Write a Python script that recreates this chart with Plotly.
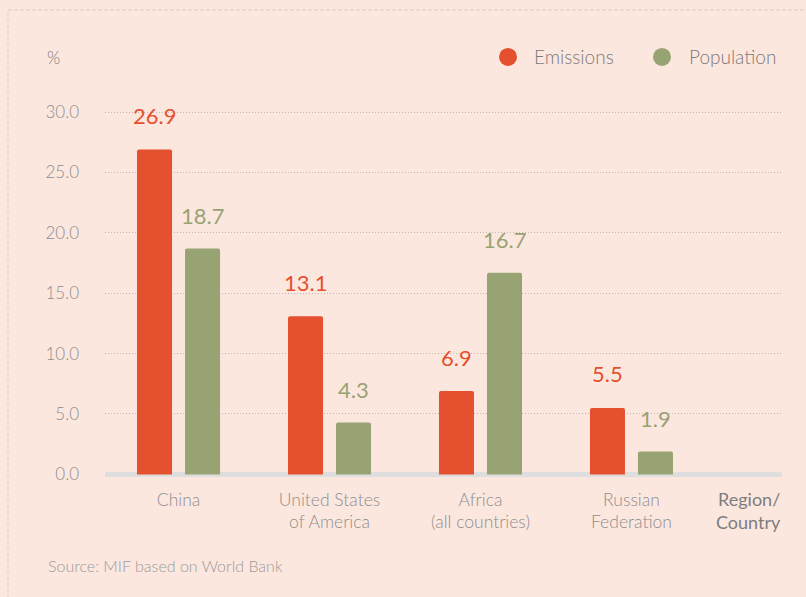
import plotly.graph_objects as go

categories = ["China", "United States<br>of America", "Africa<br>(all countries)", "Russian<br>Federation"]
emissions = [26.9, 13.1, 6.9, 5.5]
population = [18.7, 4.3, 16.7, 1.9]
y_ticks = [0, 5, 10, 15, 20, 25, 30]
y_tick_labels = ["0.0", "5.0", "10.0", "15.0", "20.0", "25.0", "30.0"]
series_names = ["Emissions", "Population"]

RED = "#E5502E"
GREEN = "#98A373"
BG = "#FCE7DF"
GRAY = "#8e8e8e"
FONT = "Lato"

# plot area in pixels (for paper-coordinate conversions)
L, R, T, B = 105, 782, 100, 477.6
def px(x):
    return (x - L) / (R - L)
def py(y):
    return (B - y) / (B - T)

xpos = list(range(len(categories)))

fig = go.Figure()
fig.add_trace(go.Bar(x=xpos, y=emissions, width=0.232, offset=-0.275,
                     marker=dict(color=RED, line=dict(width=0), cornerradius=2),
                     showlegend=False, hoverinfo="skip"))
fig.add_trace(go.Bar(x=xpos, y=population, width=0.232, offset=0.043,
                     marker=dict(color=GREEN, line=dict(width=0), cornerradius=2),
                     showlegend=False, hoverinfo="skip"))

annotations = []
for i, v in enumerate(emissions):
    annotations.append(dict(x=i - 0.275 + 0.116, y=v, xref="x", yref="y", text=f"{v:.1f}",
                            showarrow=False, yshift=34, yanchor="middle",
                            font=dict(family=FONT, size=22, color=RED)))
for i, v in enumerate(population):
    annotations.append(dict(x=i + 0.043 + 0.116, y=v, xref="x", yref="y", text=f"{v:.1f}",
                            showarrow=False, yshift=33, yanchor="middle",
                            font=dict(family=FONT, size=22, color=GREEN)))

annotations.append(dict(x=px(53), y=py(58), xref="paper", yref="paper", text="%",
                        showarrow=False, xanchor="center", yanchor="middle",
                        font=dict(family=FONT, size=17, color="#7a7a7a", weight=300)))
annotations.append(dict(x=px(783), y=py(510), xref="paper", yref="paper", text="Region/<br>Country",
                        showarrow=False, xanchor="right", yanchor="middle", align="right",
                        font=dict(family=FONT, size=18, color="#7d7d7d")))
annotations.append(dict(x=px(46), y=py(565), xref="paper", yref="paper",
                        text="Source: MIF based on World Bank",
                        showarrow=False, xanchor="left", yanchor="middle",
                        font=dict(family=FONT, size=16, color="#9a9a9a", weight=300)))

# custom legend (circle markers + labels)
legend_marker_x = [508, 662]
legend_text_x = [532, 687]
legend_colors = [RED, GREEN]
shapes = []
for name, mx, tx, c in zip(series_names, legend_marker_x, legend_text_x, legend_colors):
    shapes.append(dict(type="circle", xref="paper", yref="paper", xsizemode="pixel", ysizemode="pixel",
                       xanchor=px(mx), yanchor=py(57), x0=-9, x1=9, y0=-9, y1=9,
                       fillcolor=c, line=dict(width=0)))
    annotations.append(dict(x=px(tx), y=py(57), xref="paper", yref="paper", text=name,
                            showarrow=False, xanchor="left", yanchor="middle",
                            font=dict(family=FONT, size=19, color="#7a7a7a", weight=300)))

shapes += [
    dict(type="line", xref="paper", yref="paper", x0=px(8), x1=px(900), y0=py(10), y1=py(10),
         line=dict(color="#d6cfcb", width=1, dash="4px,2px")),
    dict(type="line", xref="paper", yref="paper", x0=px(8), x1=px(8), y0=py(700), y1=py(10),
         line=dict(color="#d6cfcb", width=1, dash="4px,2px")),
]

fig.update_layout(
    width=806, height=597,
    paper_bgcolor=BG, plot_bgcolor=BG,
    margin=dict(l=L, r=806 - R, t=T, b=597 - B),
    font=dict(family=FONT, color=GRAY),
    showlegend=False,
    xaxis=dict(range=[-0.487, 3.997], tickvals=xpos, ticktext=categories,
               showgrid=False, zeroline=False, showline=False, ticks="",
               ticklabelstandoff=9,
               tickfont=dict(family=FONT, size=17.5, color=GRAY, weight=300)),
    yaxis=dict(range=[-0.3, 31], tickvals=y_ticks, ticktext=y_tick_labels,
               showgrid=True, gridcolor="#bdb6b2", griddash="1px,2px", gridwidth=1,
               zeroline=True, zerolinecolor="#dedede", zerolinewidth=5,
               showline=False, ticks="", ticklabelstandoff=25,
               tickfont=dict(family=FONT, size=17, color=GRAY, weight=300)),
    annotations=annotations,
    shapes=shapes,
)

fig.write_html("out.html", config={"displayModeBar": False},
               post_script="document.body.style.margin='0';")
